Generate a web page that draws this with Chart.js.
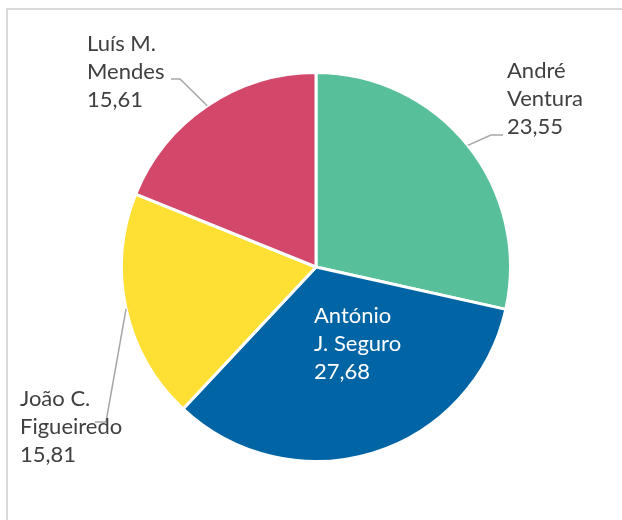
<!DOCTYPE html>
<html>
<head>
<meta charset="utf-8">
<script src="https://cdn.jsdelivr.net/npm/chart.js@4/dist/chart.umd.min.js"></script>
<style>
html, body { margin:0; padding:0; background:#ffffff; }
#wrap { width:622px; height:520px; }
</style>
</head>
<body>
<div id="wrap"><canvas id="pie" width="622" height="520"></canvas></div>
<script>
// data
const names = [['André', 'Ventura'], ['António', 'J. Seguro'], ['João C.', 'Figueiredo'], ['Luís M.', 'Mendes']];
const values = [23.55, 27.68, 15.81, 15.61];
const colors = ['#57c09b', '#0064a5', '#fedf33', '#d3476b'];

// label placement (left x, first line centre y, leader elbow, text colour)
const labelPos = [
  { x:507, y:71, elbow:{x:491, y:135, end:503}, color:'#404040' },
  { x:314, y:316, elbow:null, color:'#ffffff' },
  { x:20, y:399, elbow:{x:106, y:422, end:95}, color:'#404040' },
  { x:87, y:44, elbow:{x:180, y:79, end:171}, color:'#404040' }
];
const FONT = '22px Lato';
const LINE_H = 28;

const fmt = v => v.toFixed(2).replace('.', ',');

const framePlugin = {
  id:'frame',
  beforeDraw(chart){
    const ctx = chart.ctx;
    ctx.save();
    ctx.strokeStyle = '#d9d9d9';
    ctx.lineWidth = 2;
    ctx.strokeRect(7, 9, 800, 800);
    ctx.restore();
  }
};

const labelPlugin = {
  id:'pieLabels',
  afterDatasetsDraw(chart){
    const ctx = chart.ctx;
    const arcs = chart.getDatasetMeta(0).data;
    ctx.save();
    arcs.forEach((arc, i) => {
      const p = arc.getProps(['x','y','startAngle','endAngle','outerRadius'], true);
      const mid = (p.startAngle + p.endAngle) / 2;
      const ax = p.x + Math.cos(mid) * p.outerRadius;
      const ay = p.y + Math.sin(mid) * p.outerRadius;
      const lp = labelPos[i];
      if (lp.elbow) {
        ctx.strokeStyle = '#a6a6a6';
        ctx.lineWidth = 1.5;
        ctx.beginPath();
        ctx.moveTo(ax, ay);
        ctx.lineTo(lp.elbow.x, lp.elbow.y);
        ctx.lineTo(lp.elbow.end, lp.elbow.y);
        ctx.stroke();
      }
      const lines = names[i].concat([fmt(values[i])]);
      ctx.fillStyle = lp.color;
      ctx.font = FONT;
      ctx.textBaseline = 'middle';
      ctx.textAlign = 'left';
      lines.forEach((t, k) => ctx.fillText(t, lp.x, lp.y + k * LINE_H));
    });
    ctx.restore();
  }
};

new Chart(document.getElementById('pie'), {
  type:'pie',
  data:{
    labels: names.map(n => n.join(' ')),
    datasets:[{
      data: values,
      backgroundColor: colors,
      borderColor:'#ffffff',
      borderWidth:3,
      hoverOffset:0,
      offset:0
    }]
  },
  options:{
    responsive:false,
    animation:false,
    layout:{ padding:{ left:120, right:110, top:71, bottom:57 } },
    plugins:{ legend:{ display:false }, tooltip:{ enabled:false } }
  },
  plugins:[framePlugin, labelPlugin]
});
</script>
</body>
</html>
